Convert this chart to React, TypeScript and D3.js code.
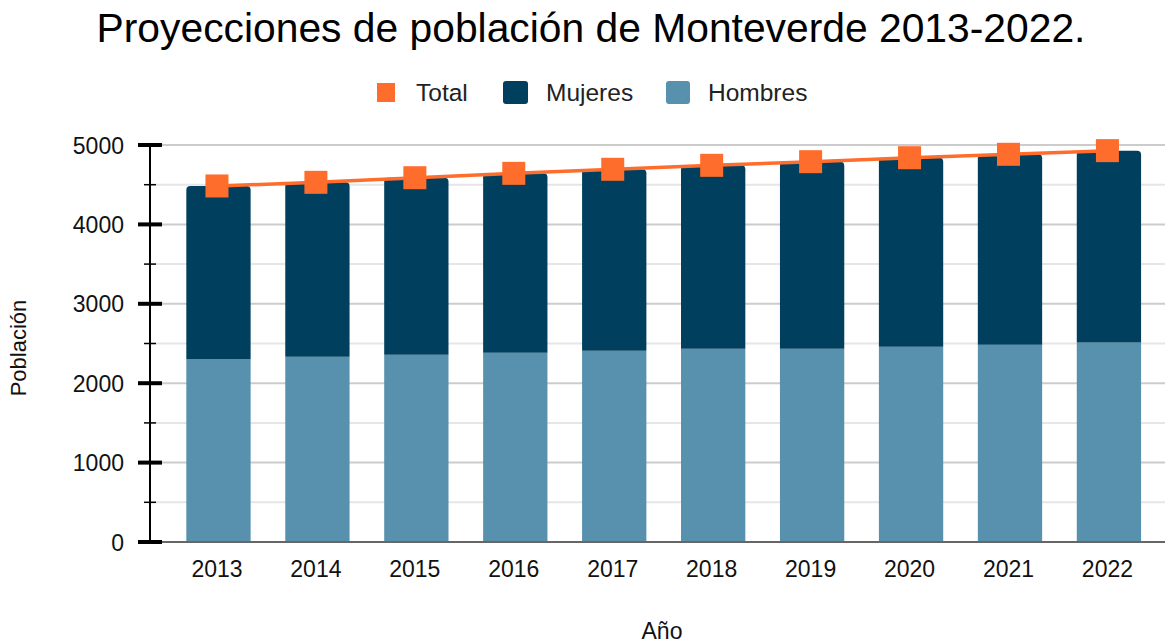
import React from "react";
import * as d3 from "d3";

const years = ["2013", "2014", "2015", "2016", "2017", "2018", "2019", "2020", "2021", "2022"];
const hombres = [2305, 2334, 2359, 2384, 2409, 2434, 2434, 2460, 2485, 2513];
const total = [4484, 4530, 4588, 4643, 4694, 4744, 4790, 4840, 4883, 4929];
const mujeres = total.map((t, i) => t - hombres[i]);
const majorTicks = [0, 1000, 2000, 3000, 4000, 5000];
const minorTicks = [500, 1500, 2500, 3500, 4500];

const W = 1165;
const H = 643;
const COL_M = "#00405e";
const COL_H = "#5891ad";
const COL_T = "#ff6d2d";
const FONT = "'Liberation Sans', Arial, sans-serif";

export default function App() {
  const y = d3.scaleLinear().domain([0, 5000]).range([542, 145]);
  const x = d3
    .scaleBand<string>()
    .domain(years)
    .range([169, 1158.4])
    .paddingInner(0.35)
    .paddingOuter(0.175);
  const bw = x.bandwidth();
  const axisX = 150;
  const line = d3
    .line<number>()
    .x((_, i) => (x(years[i]) as number) + bw / 2)
    .y((d) => y(d));

  const r = 4;
  const topPath = (x0: number, y0: number, w: number, h: number) =>
    `M${x0},${y0 + h}V${y0 + r}Q${x0},${y0} ${x0 + r},${y0}H${x0 + w - r}Q${x0 + w},${y0} ${x0 + w},${y0 + r}V${y0 + h}Z`;

  return (
    <svg width={W} height={H} style={{ position: "absolute", left: 0, top: 0, background: "#fff" }} fontFamily={FONT}>
      <rect width={W} height={H} fill="#fff" />
      <text x={591} y={42} textAnchor="middle" fontSize={40.8} fill="#000">
        Proyecciones de población de Monteverde 2013-2022.
      </text>
      {/* legend */}
      <g fontSize={24.5} fill="#222">
        <rect x={377} y={83} width={18} height={19} fill={COL_T} />
        <text x={416} y={101}>Total</text>
        <rect x={503} y={81} width={25} height={23} rx={3} fill={COL_M} />
        <text x={546} y={101}>Mujeres</text>
        <rect x={666} y={81} width={24} height={23} rx={3} fill={COL_H} />
        <text x={708} y={101}>Hombres</text>
      </g>
      {/* gridlines */}
      {minorTicks.map((t) => (
        <line key={"mg" + t} x1={axisX} x2={W} y1={y(t)} y2={y(t)} stroke="#e6e6e6" strokeWidth={2} />
      ))}
      {majorTicks.slice(1).map((t) => (
        <line key={"Mg" + t} x1={axisX} x2={W} y1={y(t)} y2={y(t)} stroke="#cccccc" strokeWidth={2} />
      ))}
      {/* bars */}
      {years.map((yr, i) => {
        const x0 = x(yr) as number;
        const yh = y(hombres[i]);
        const yt = y(total[i]);
        return (
          <g key={yr}>
            <rect x={x0} y={yh} width={bw} height={542 - yh} fill={COL_H} />
            <path d={topPath(x0, yt, bw, yh - yt)} fill={COL_M} />
          </g>
        );
      })}
      {/* bottom axis */}
      <line x1={axisX} x2={W} y1={542} y2={542} stroke="#666" strokeWidth={2} />
      {/* y axis */}
      <line x1={axisX} x2={axisX} y1={145} y2={542} stroke="#000" strokeWidth={2} />
      {majorTicks.map((t) => (
        <line key={"Mt" + t} x1={138} x2={162} y1={y(t)} y2={y(t)} stroke="#000" strokeWidth={4} />
      ))}
      {minorTicks.map((t) => (
        <line key={"mt" + t} x1={144} x2={156} y1={y(t)} y2={y(t)} stroke="#000" strokeWidth={1.5} />
      ))}
      <g fontSize={23} fill="#111" textAnchor="end">
        {majorTicks.map((t) => (
          <text key={"yl" + t} x={124} y={y(t) + 8.5}>
            {t}
          </text>
        ))}
      </g>
      <g fontSize={23} fill="#111" textAnchor="middle">
        {years.map((yr) => (
          <text key={"xl" + yr} x={(x(yr) as number) + bw / 2 - 1.5} y={577}>
            {yr}
          </text>
        ))}
      </g>
      {/* total line */}
      <path d={line(total) || ""} fill="none" stroke={COL_T} strokeWidth={3.5} />
      {total.map((t, i) => (
        <rect
          key={"m" + i}
          x={(x(years[i]) as number) + bw / 2 - 11.5 - 1.5}
          y={y(t) - 11.5}
          width={23}
          height={23}
          fill={COL_T}
        />
      ))}
      <text x={662} y={639} textAnchor="middle" fontSize={23} fill="#111">
        Año
      </text>
      <text transform={`translate(26,348) rotate(-90)`} textAnchor="middle" fontSize={22} fill="#111">
        Población
      </text>
    </svg>
  );
}
